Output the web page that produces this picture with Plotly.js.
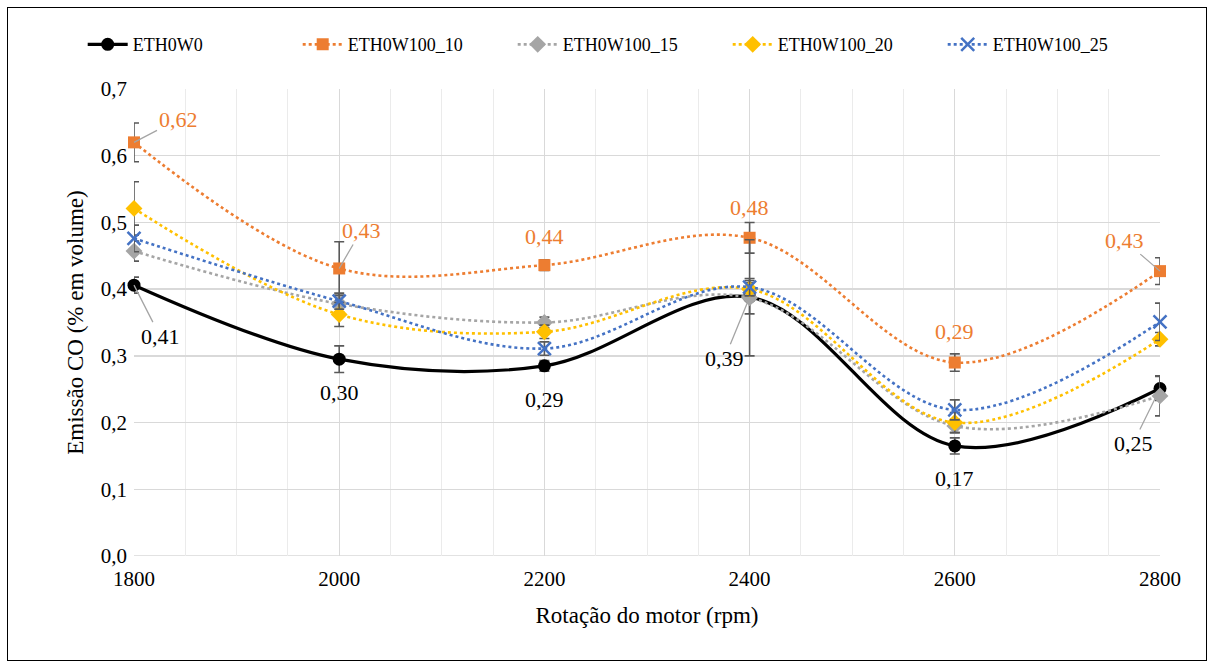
<!DOCTYPE html>
<html>
<head>
<meta charset="utf-8">
<script src="https://cdn.plot.ly/plotly-3.0.1.min.js"></script>
<style>
html,body{margin:0;padding:0;background:#fff;}
#chart{width:1213px;height:666px;position:relative;}
#frame{position:absolute;left:7px;top:7px;width:1198px;height:652px;border:1px solid #000;pointer-events:none;}
</style>
</head>
<body>
<div id="chart"></div>
<div id="frame"></div>
<script>
const rpm = [1800, 2000, 2200, 2400, 2600, 2800];

const seriesNames = ['ETH0W0', 'ETH0W100_10', 'ETH0W100_15', 'ETH0W100_20', 'ETH0W100_25'];

const eth0w0      = [0.406, 0.295, 0.285, 0.388, 0.165, 0.251];
const eth0w100_10 = [0.620, 0.431, 0.436, 0.477, 0.290, 0.427];
const eth0w100_15 = [0.457, 0.378, 0.350, 0.387, 0.195, 0.240];
const eth0w100_20 = [0.521, 0.362, 0.336, 0.400, 0.200, 0.325];
const eth0w100_25 = [0.476, 0.382, 0.311, 0.403, 0.219, 0.351];

const err_eth0w0      = [0.012, 0.020, 0.008, 0.025, 0.012, 0.018];
const err_eth0w100_10 = [0.029, 0.040, 0.008, 0.023, 0.013, 0.020];
const err_eth0w100_15 = [0.015, 0.012, 0.008, 0.087, 0.010, 0.030];
const err_eth0w100_20 = [0.040, 0.018, 0.010, 0.010, 0.015, 0.010];
const err_eth0w100_25 = [0.020, 0.012, 0.010, 0.013, 0.015, 0.028];

const labels_eth0w0 = ['0,41', '0,30', '0,29', '0,39', '0,17', '0,25'];
const labels_eth0w100_10 = ['0,62', '0,43', '0,44', '0,48', '0,29', '0,43'];

const colors = ['#000000', '#ED7D31', '#A5A5A5', '#FFC000', '#4472C4'];

const serif = 'Liberation Serif';

function errStyle(arr){
  return {type:'data', array:arr, visible:true, color:'#595959', thickness:1.6, width:5};
}

const traces = [
  {x:rpm, y:eth0w0, name:seriesNames[0], type:'scatter', mode:'lines+markers', cliponaxis:false,
   line:{color:colors[0], width:3.2, shape:'spline', smoothing:1},
   marker:{symbol:'circle', size:13, color:colors[0]}, error_y:errStyle(err_eth0w0)},
  {x:rpm, y:eth0w100_10, name:seriesNames[1], type:'scatter', mode:'lines+markers', cliponaxis:false,
   line:{color:colors[1], width:2.6, dash:'dot', shape:'spline', smoothing:1},
   marker:{symbol:'square', size:12, color:colors[1]}, error_y:errStyle(err_eth0w100_10)},
  {x:rpm, y:eth0w100_15, name:seriesNames[2], type:'scatter', mode:'lines+markers', cliponaxis:false,
   line:{color:colors[2], width:2.6, dash:'dot', shape:'spline', smoothing:1},
   marker:{symbol:'diamond', size:13, color:colors[2]}, error_y:errStyle(err_eth0w100_15)},
  {x:rpm, y:eth0w100_20, name:seriesNames[3], type:'scatter', mode:'lines+markers', cliponaxis:false,
   line:{color:colors[3], width:2.6, dash:'dot', shape:'spline', smoothing:1},
   marker:{symbol:'diamond', size:13, color:colors[3]}, error_y:errStyle(err_eth0w100_20)},
  {x:rpm, y:eth0w100_25, name:seriesNames[4], type:'scatter', mode:'lines+markers', cliponaxis:false,
   line:{color:colors[4], width:2.6, dash:'dot', shape:'spline', smoothing:1},
   marker:{symbol:'x-thin-open', size:13, color:colors[4], line:{color:colors[4], width:2.5}}, error_y:errStyle(err_eth0w100_25)}
];

// label placement offsets (pixels), arrow flag
const blackOffsets = [[26, 51, true], [0, 33, false], [0, 34, false], [-25, 61, true], [0, 33, false], [-27, 55, true]];
const orangeOffsets = [[44, -23, true], [22, -38, true], [0, -29, false], [0, -30, false], [0, -31, false], [-36, -31, true]];

const annotations = [];
function addLabels(vals, labels, offs, color){
  for (let i = 0; i < rpm.length; i++){
    const o = offs[i];
    const a = {x: rpm[i], y: vals[i], xref:'x', yref:'y', text: labels[i],
      font:{family:serif, size:22, color:color}};
    if (o[2]){
      a.showarrow = true; a.arrowhead = 0; a.arrowwidth = 1.3; a.arrowcolor = '#A5A5A5';
      a.ax = o[0]; a.ay = o[1]; a.standoff = 0;
    } else {
      a.showarrow = false; a.xshift = o[0]; a.yshift = -o[1];
    }
    annotations.push(a);
  }
}
addLabels(eth0w0, labels_eth0w0, blackOffsets, '#000000');
addLabels(eth0w100_10, labels_eth0w100_10, orangeOffsets, '#ED7D31');

const layout = {
  width:1213, height:666,
  margin:{l:134, r:53, t:89, b:110},
  paper_bgcolor:'#ffffff', plot_bgcolor:'#ffffff',
  separators:',.',
  showlegend:true,
  font:{family:serif},
  legend:{orientation:'h', x:-0.05, xanchor:'left', y:1.095, yanchor:'middle',
    font:{family:serif, size:18, color:'#000'}, itemwidth:40, traceorder:'normal',
    entrywidth:160, entrywidthmode:'pixels'},
  xaxis:{range:[1800, 2800], tickmode:'linear', tick0:1800, dtick:200,
    showgrid:true, gridcolor:'#D9D9D9', gridwidth:1,
    minor:{dtick:50, showgrid:true, gridcolor:'#EBEBEB', gridwidth:1},
    zeroline:false, showline:false, ticks:'',
    tickfont:{family:serif, size:21, color:'#000'}, ticklabelstandoff:8,
    title:{text:'Rotação do motor (rpm)', font:{family:serif, size:23, color:'#000'}, standoff:16}},
  yaxis:{range:[0, 0.7], tickmode:'linear', tick0:0, dtick:0.1, tickformat:'.1f',
    showgrid:true, gridcolor:'#D9D9D9', gridwidth:1.5,
    zeroline:false, showline:false, ticks:'',
    tickfont:{family:serif, size:21, color:'#000'}, ticklabelstandoff:6,
    title:{text:'Emissão CO (% em volume)', font:{family:serif, size:23, color:'#000'}, standoff:10}},
  annotations:annotations,
  shapes:[{type:'line', xref:'paper', yref:'y', x0:0, x1:1, y0:0, y1:0, line:{color:'#D9D9D9', width:1.5}, layer:'below'}]
};

Plotly.newPlot('chart', traces, layout, {displayModeBar:false, staticPlot:true});
</script>
</body>
</html>
